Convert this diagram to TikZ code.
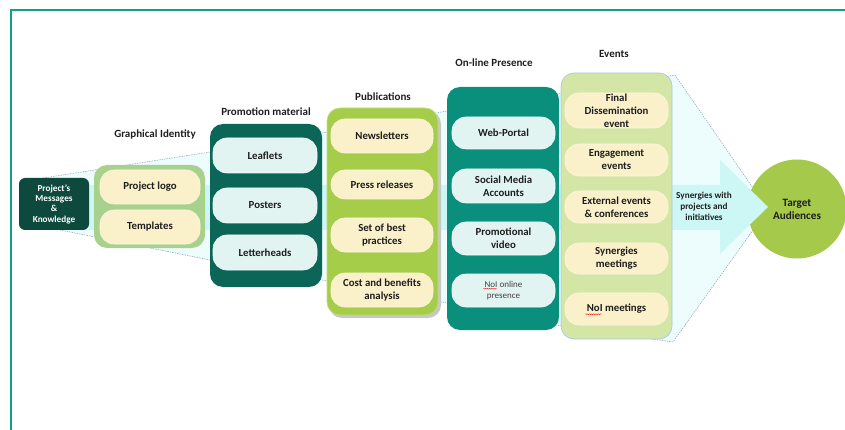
\documentclass[tikz,border=0pt]{standalone}
\usepackage{fontspec}
\setmainfont{Carlito}
\usetikzlibrary{decorations.pathmorphing}
\definecolor{frameteal}{HTML}{179E8B}
\definecolor{projdark}{HTML}{0D4A3D}
\definecolor{gigreen}{HTML}{A9D18E}
\definecolor{cream}{HTML}{FAF0C9}
\definecolor{pmdark}{HTML}{0B6657}
\definecolor{lightcyan}{HTML}{E2F4F2}
\definecolor{pubgreen}{HTML}{A6CD4A}
\definecolor{onlteal}{HTML}{0A8F7D}
\definecolor{evgreen}{HTML}{D4E6A6}
\definecolor{evborder}{HTML}{A9C9E2}
\definecolor{funnelfill}{HTML}{EDFCFC}
\definecolor{funneledge}{HTML}{8FA6C4}
\definecolor{arrowcyan}{HTML}{CDF7F5}
\definecolor{targetgreen}{HTML}{A4C94B}
\definecolor{txt}{HTML}{1E1E1E}
\tikzset{
  cont/.style={rounded corners=13pt, inner sep=0pt},
  pill/.style={rounded corners=14pt, inner sep=0pt, align=center, text=txt,
    font=\fontsize{10.8}{13}\selectfont\bfseries},
  creampill/.style={pill, fill=cream, draw=cream!60!white, line width=0.6pt},
  cyanpill/.style={pill, fill=lightcyan, draw=lightcyan!50!white, line width=0.6pt},
  collabel/.style={text=txt, font=\fontsize{11}{13}\selectfont\bfseries},
  spell/.style={red, line width=0.35pt, decorate, decoration={snake, amplitude=0.45pt, segment length=1.8pt}}
}
\begin{document}
\begin{tikzpicture}[x=1pt,y=-1pt]
\useasboundingbox (0,0) rectangle (845,430);
% frame
\draw[frameteal, line width=1.6pt] (11,431) -- (11,10) -- (846,10);
% funnel
\fill[funnelfill] (43,178) -- (210,152) -- (322,133) -- (447,111) -- (561,93) -- (675,75) -- (753,188)
  -- (753,230) -- (673,342) -- (561,326) -- (447,303) -- (322,280) -- (210,260) -- (60,230) -- cycle;
\draw[funneledge, line width=0.5pt, dash pattern=on 1.5pt off 1pt] (43,178) -- (210,152) -- (322,133) -- (447,111) -- (561,93) -- (675,75) -- (753,188);
\draw[funneledge, line width=0.5pt, dash pattern=on 1.5pt off 1pt] (753,230) -- (673,342) -- (561,326) -- (447,303) -- (322,280) -- (210,260) -- (60,230);
% target
\node[circle, fill=targetgreen, minimum size=99pt, inner sep=0pt] (target) at (797,209) {};
% band + arrow
\fill[arrowcyan] (89,185) -- (720,185) -- (720,160) -- (768,207) -- (720,254) -- (720,230) -- (89,230) -- cycle;
\node[align=center, text=txt, font=\fontsize{11.2}{13}\selectfont\bfseries] (targettxt) at (target.center) {Target\\Audiences};
\node[align=center, text=txt, font=\fontsize{9.2}{11}\selectfont\bfseries] (syn) at (704,206) {Synergies with\\projects and\\initiatives};
% project box
\node[cont, rounded corners=6pt, fill=projdark, minimum width=70pt, minimum height=52pt, align=center,
  text=white, font=\fontsize{9.2}{10.3}\selectfont\bfseries] (proj) at (54,204) {Project’s\\Messages\\\&\\Knowledge};
% graphical identity
\node[cont, fill=gigreen, minimum width=111pt, minimum height=83pt] (gi) at (149.5,206.5) {};
\node[creampill, minimum width=100pt, minimum height=34pt] (logo) at (150,187) {Project logo};
\node[creampill, minimum width=100pt, minimum height=34pt] (tmpl) at (150,227) {Templates};
\node[collabel] (gilab) at (155,134) {Graphical Identity};
% promotion material
\node[cont, fill=pmdark, minimum width=112pt, minimum height=163pt] (pm) at (266,205.5) {};
\node[cyanpill, minimum width=104pt, minimum height=35pt] (leaf) at (265,155.5) {Leaflets};
\node[cyanpill, minimum width=104pt, minimum height=35pt] (post) at (265,205.5) {Posters};
\node[cyanpill, minimum width=104pt, minimum height=35pt] (lett) at (265,252.5) {Letterheads};
\node[collabel] (pmlab) at (266,112) {Promotion material};
% publications
\fill[black!22, rounded corners=13pt] (329,111) rectangle (441,318);
\node[cont, fill=pubgreen, draw=pubgreen!70!white, line width=0.6pt, minimum width=111pt, minimum height=207pt] (pub) at (382.5,211.5) {};
\node[creampill, minimum width=102pt, minimum height=34pt] (news) at (382,136) {Newsletters};
\node[creampill, minimum width=102pt, minimum height=29pt] (press) at (382,184.5) {Press releases};
\node[creampill, minimum width=102pt, minimum height=34pt] (best) at (382,235) {Set of best\\practices};
\node[creampill, minimum width=102pt, minimum height=34pt] (cost) at (382,290) {Cost and benefits\\analysis};
\node[collabel] (publab) at (383,97) {Publications};
% on-line presence
\node[cont, fill=onlteal, minimum width=112pt, minimum height=243pt] (onl) at (503,208.5) {};
\node[cyanpill, minimum width=103pt, minimum height=32pt] (web) at (503.5,133) {Web-Portal};
\node[cyanpill, minimum width=103pt, minimum height=34pt] (soc) at (503.5,186) {Social Media\\Accounts};
\node[cyanpill, minimum width=103pt, minimum height=33pt] (promo) at (503.5,238.5) {Promotional\\video};
\node[cyanpill, minimum width=103pt, minimum height=33pt, font=\fontsize{9}{11.5}\selectfont, text=black!75] (noion) at (503.5,290.5) {NoI online\\presence};
\node[collabel] (onllab) at (494,63) {On-line Presence};
% events
\node[cont, fill=evgreen, draw=evborder, line width=0.7pt, minimum width=111pt, minimum height=266pt] (ev) at (616.5,206) {};
\node[creampill, minimum width=103pt, minimum height=35pt] (final) at (616.5,110.5) {Final\\Dissemination\\event};
\node[creampill, minimum width=103pt, minimum height=32pt] (eng) at (616.5,160) {Engagement\\events};
\node[creampill, minimum width=103pt, minimum height=32pt] (ext) at (616.5,207) {External events\\\& conferences};
\node[creampill, minimum width=103pt, minimum height=31pt] (synm) at (616.5,258.5) {Synergies\\meetings};
\node[creampill, minimum width=103pt, minimum height=32pt] (noim) at (616.5,309) {NoI meetings};
\node[collabel] (evlab) at (614,54) {Events};
% spell-check marks
\draw[spell] (483.5,288.8) -- (497,288.8);
\draw[spell] (585.5,314.2) -- (601.5,314.2);
\end{tikzpicture}
\end{document}
